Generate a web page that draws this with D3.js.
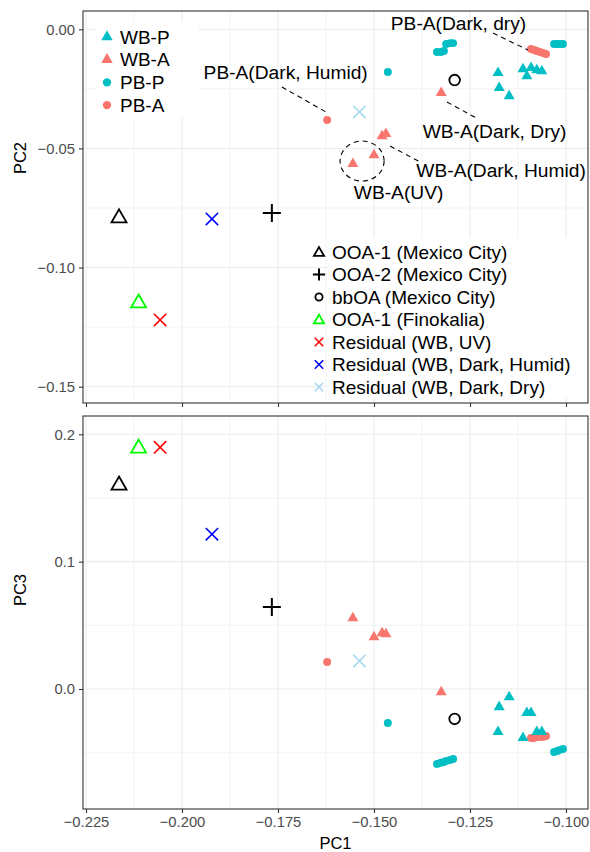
<!DOCTYPE html>
<html>
  <head>
    <meta charset="utf-8">
    <style>
      body { margin: 0; background: #fff; }
      text { font-family: "Liberation Sans", Arial, sans-serif; }
    </style>
    <title>PCA</title>
  </head>
  <body>
  <div id="viz-wrapper"></div>
  <script src="https://cdnjs.cloudflare.com/ajax/libs/d3/7.8.5/d3.min.js" charset="utf-8"></script>
  <script type="text/javascript">

    // samples as [PC1, PC2, PC3]
    var wbP = [[-0.1177,-0.0183,-0.0337],[-0.1174,-0.0246,-0.0141],[-0.1148,-0.0280,-0.0063],
               [-0.1112,-0.0167,-0.0384],[-0.1102,-0.0196,-0.0188],[-0.1091,-0.0162,-0.0188],
               [-0.1076,-0.0171,-0.0337],[-0.1063,-0.0175,-0.0337]];
    var wbA = [[-0.1555,-0.0565,0.0557],[-0.1500,-0.0528,0.0408],[-0.1479,-0.0448,0.0439],
               [-0.1469,-0.0439,0.0431],[-0.1325,-0.0267,-0.0024]];
    var pbP = [[-0.1464,-0.0179,-0.0267],
               [-0.1336,-0.0095,-0.0588],[-0.1326,-0.0095,-0.0580],[-0.1318,-0.0091,-0.0573],
               [-0.1312,-0.0062,-0.0565],[-0.1302,-0.0058,-0.0557],[-0.1294,-0.0058,-0.0549],
               [-0.1031,-0.0062,-0.0494],[-0.1023,-0.0062,-0.0486],[-0.1016,-0.0062,-0.0478],
               [-0.1008,-0.0062,-0.0471]];
    var pbA = [[-0.1622,-0.0381,0.0212],
               [-0.1091,-0.0083,-0.0384],[-0.1083,-0.0087,-0.0384],[-0.1076,-0.0091,-0.0376],
               [-0.1068,-0.0095,-0.0376],[-0.1060,-0.0099,-0.0376],[-0.1052,-0.0104,-0.0369]];

    // reference profiles
    var refNames = ['OOA-1 (Mexico City)','OOA-2 (Mexico City)','bbOA (Mexico City)','OOA-1 (Finokalia)',
                    'Residual (WB, UV)','Residual (WB, Dark, Humid)','Residual (WB, Dark, Dry)'];
    var refPC1 = [-0.2164,-0.1766,-0.1290,-0.2113,-0.2057,-0.1922,-0.1538];
    var refPC2 = [-0.0788,-0.0771,-0.0213,-0.1145,-0.1220,-0.0796,-0.0347];
    var refPC3 = [0.1608,0.0643,-0.0235,0.1898,0.1898,0.1216,0.0220];

    var sampleNames = ['WB-P','WB-A','PB-P','PB-A'];

    // annotations: label, PC1, PC2 (centre of text)
    var noteLabels = ['PB-A(Dark, dry)','WB-A(Dark, Dry)','PB-A(Dark, Humid)','WB-A(Dark, Humid)','WB-A(UV)'];
    var notePC1 = [-0.1280,-0.1186,-0.1730,-0.1169,-0.1436];
    var notePC2 = [0.0026,-0.0427,-0.0179,-0.0591,-0.0683];
    // leader lines [x1,y1,x2,y2] in PC1/PC2
    var leaders = [[-0.1190,-0.0016,-0.1099,-0.0087],[-0.1310,-0.0305,-0.1234,-0.0372],
                   [-0.1740,-0.0242,-0.1625,-0.0347],[-0.1458,-0.0490,-0.1380,-0.0557]];

    var xTicks = [-0.225,-0.200,-0.175,-0.150,-0.125,-0.100];
    var xMinor = [-0.2125,-0.1875,-0.1625,-0.1375,-0.1125];
    var pc2Ticks = [0.00,-0.05,-0.10,-0.15];
    var pc2Minor = [-0.025,-0.075,-0.125];
    var pc3Ticks = [0.2,0.1,0.0];
    var pc3Minor = [0.15,0.05,-0.05];

    var width = 590, height = 852;
    var teal = '#00BFC4', salmon = '#F8766D';
    var refStyle = {
      'OOA-1 (Mexico City)': {shape:'tri', color:'#000000'},
      'OOA-2 (Mexico City)': {shape:'plus', color:'#000000'},
      'bbOA (Mexico City)': {shape:'circle', color:'#000000'},
      'OOA-1 (Finokalia)': {shape:'tri', color:'#00FF00'},
      'Residual (WB, UV)': {shape:'x', color:'#FF0000'},
      'Residual (WB, Dark, Humid)': {shape:'x', color:'#0000FF'},
      'Residual (WB, Dark, Dry)': {shape:'x', color:'#A6D8F0'}
    };

    var left = 83, right = 588;
    var x = d3.scaleLinear().domain([-0.225,-0.1]).range([86,566]);
    var yTop = d3.scaleLinear().domain([0,-0.15]).range([29.3,386.7]);
    var yBot = d3.scaleLinear().domain([0.2,0]).range([434.3,689]);
    var topPanel = {y0:11, y1:403}, botPanel = {y0:416, y1:809};

    var viz = d3.select('#viz-wrapper').append('svg')
                .attr('width', width).attr('height', height);

    function grid(panel, y, major, minor) {
      var g = viz.append('g');
      g.selectAll('.vmin').data(xMinor).enter().append('line')
        .attr('x1', x).attr('x2', x).attr('y1', panel.y0).attr('y2', panel.y1)
        .style('stroke','#EBEBEB').style('stroke-width',0.6);
      g.selectAll('.hmin').data(minor).enter().append('line')
        .attr('x1', left).attr('x2', right).attr('y1', y).attr('y2', y)
        .style('stroke','#EBEBEB').style('stroke-width',0.6);
      g.selectAll('.vmaj').data(xTicks).enter().append('line')
        .attr('x1', x).attr('x2', x).attr('y1', panel.y0).attr('y2', panel.y1)
        .style('stroke','#EBEBEB').style('stroke-width',1.1);
      g.selectAll('.hmaj').data(major).enter().append('line')
        .attr('x1', left).attr('x2', right).attr('y1', y).attr('y2', y)
        .style('stroke','#EBEBEB').style('stroke-width',1.1);
    }
    grid(topPanel, yTop, pc2Ticks, pc2Minor);
    grid(botPanel, yBot, pc3Ticks, pc3Minor);

    // white legend backgrounds hide the grid
    viz.append('rect').attr('x',96).attr('y',22).attr('width',102).attr('height',96).style('fill','#fff');
    viz.append('rect').attr('x',328).attr('y',238).attr('width',right-328).attr('height',160).style('fill','#fff');

    function triPath(w) {
      var h = w * Math.sqrt(3) / 2;
      return 'M0,' + (-2*h/3) + 'L' + (w/2) + ',' + (h/3) + 'L' + (-w/2) + ',' + (h/3) + 'Z';
    }
    function drawMark(g, shape, color, px, py, big) {
      var s = big ? 1 : 0.68;
      if (shape === 'tri') {
        g.append('path').attr('d', triPath(15*s)).attr('transform','translate('+px+','+(py+1)+')')
          .style('fill','none').style('stroke',color).style('stroke-width',1.8);
      } else if (shape === 'circle') {
        g.append('circle').attr('cx',px).attr('cy',py).attr('r',5.3*s)
          .style('fill','none').style('stroke',color).style('stroke-width',1.8);
      } else if (shape === 'plus') {
        var a = 9*s;
        g.append('path').attr('d','M'+(px-a)+','+py+'H'+(px+a)+'M'+px+','+(py-a)+'V'+(py+a))
          .style('stroke',color).style('stroke-width',2);
      } else if (shape === 'x') {
        var b = 6.2*s;
        g.append('path').attr('d','M'+(px-b)+','+(py-b)+'L'+(px+b)+','+(py+b)+'M'+(px-b)+','+(py+b)+'L'+(px+b)+','+(py-b))
          .style('stroke',color).style('stroke-width',1.6);
      }
    }

    function drawSamples(y, idx) {
      var g = viz.append('g');
      var sets = [[pbP,'circle',teal],[pbA,'circle',salmon],[wbP,'tri',teal],[wbA,'tri',salmon]];
      sets.forEach(function(s) {
        g.selectAll(null).data(s[0]).enter().append('path')
          .attr('d', s[1] === 'tri' ? triPath(11) : d3.symbol(d3.symbolCircle, 50)())
          .attr('transform', function(d){ return 'translate(' + x(d[0]) + ',' + y(d[idx]) + ')'; })
          .style('fill', s[2]);
      });
      refNames.forEach(function(n, i) {
        var st = refStyle[n];
        drawMark(g, st.shape, st.color, x(refPC1[i]), y(idx === 1 ? refPC2[i] : refPC3[i]), true);
      });
    }
    drawSamples(yTop, 1);
    drawSamples(yBot, 2);

    // annotations (top panel)
    var ann = viz.append('g');
    ann.selectAll('line').data(leaders).enter().append('line')
      .attr('x1', function(d){return x(d[0]);}).attr('y1', function(d){return yTop(d[1]);})
      .attr('x2', function(d){return x(d[2]);}).attr('y2', function(d){return yTop(d[3]);})
      .style('stroke','#000').style('stroke-width',1.1).style('stroke-dasharray','5,4');
    ann.append('ellipse')
      .attr('cx', x(-0.1531)).attr('cy', yTop(-0.0553))
      .attr('rx', x(-0.1531 + 0.00573) - x(-0.1531)).attr('ry', yTop(-0.0553 - 0.0084) - yTop(-0.0553))
      .style('fill','none').style('stroke','#000').style('stroke-width',1.1).style('stroke-dasharray','5,4');
    ann.selectAll('text').data(noteLabels).enter().append('text')
      .attr('x', function(d,i){return x(notePC1[i]);})
      .attr('y', function(d,i){return yTop(notePC2[i]);})
      .attr('dy','0.35em').attr('text-anchor','middle')
      .style('font-size','19.2px').style('fill','#000')
      .text(function(d){return d;});

    // legend of samples
    var leg1 = viz.append('g');
    sampleNames.forEach(function(n, i) {
      var cy = 37 + i*22.7;
      var col = (i % 2 === 0) ? teal : salmon;
      leg1.append('path')
        .attr('d', i < 2 ? triPath(11.5) : d3.symbol(d3.symbolCircle, 55)())
        .attr('transform','translate(107,' + cy + ')').style('fill', col);
      leg1.append('text').attr('x',120).attr('y',cy).attr('dy','0.35em')
        .style('font-size','19px').text(n);
    });

    // legend of reference profiles
    var leg2 = viz.append('g');
    refNames.forEach(function(n, i) {
      var cy = 252 + i*22.5;
      var st = refStyle[n];
      drawMark(leg2, st.shape, st.color, 319, cy, false);
      leg2.append('text').attr('x',332).attr('y',cy).attr('dy','0.35em')
        .style('font-size','19px').text(n);
    });

    // panel borders
    [topPanel, botPanel].forEach(function(p) {
      viz.append('rect').attr('x',left).attr('y',p.y0).attr('width',right-left).attr('height',p.y1-p.y0)
        .style('fill','none').style('stroke','#333').style('stroke-width',1.1);
    });

    // axes
    function styleAxis(g) {
      g.select('.domain').remove();
      g.selectAll('.tick line').style('stroke','#333').style('stroke-width',1.1);
      g.selectAll('.tick text').style('fill','#4D4D4D').style('font-size','14.8px')
        .style('font-family','"Liberation Sans", Arial, sans-serif');
    }
    viz.append('g').attr('transform','translate(' + left + ',0)')
      .call(d3.axisLeft(yTop).tickValues(pc2Ticks).tickFormat(d3.format('.2f')).tickSize(4).tickPadding(4))
      .call(styleAxis);
    viz.append('g').attr('transform','translate(' + left + ',0)')
      .call(d3.axisLeft(yBot).tickValues(pc3Ticks).tickFormat(d3.format('.1f')).tickSize(4).tickPadding(4))
      .call(styleAxis);
    viz.append('g').attr('transform','translate(0,' + topPanel.y1 + ')')
      .call(d3.axisBottom(x).tickValues(xTicks).tickFormat('').tickSize(4))
      .call(styleAxis);
    viz.append('g').attr('transform','translate(0,' + botPanel.y1 + ')')
      .call(d3.axisBottom(x).tickValues(xTicks).tickFormat(d3.format('.3f')).tickSize(4).tickPadding(3))
      .call(styleAxis);

    // axis titles
    viz.append('text').attr('x', (left+right)/2).attr('y', 843).attr('dy','0.35em')
      .attr('text-anchor','middle').style('font-size','16.5px').text('PC1');
    viz.append('text').attr('transform','translate(20,158) rotate(-90)').attr('dy','0.35em')
      .attr('text-anchor','middle').style('font-size','16.5px').text('PC2');
    viz.append('text').attr('transform','translate(20,590) rotate(-90)').attr('dy','0.35em')
      .attr('text-anchor','middle').style('font-size','16.5px').text('PC3');
  </script>
  </body>
</html>
